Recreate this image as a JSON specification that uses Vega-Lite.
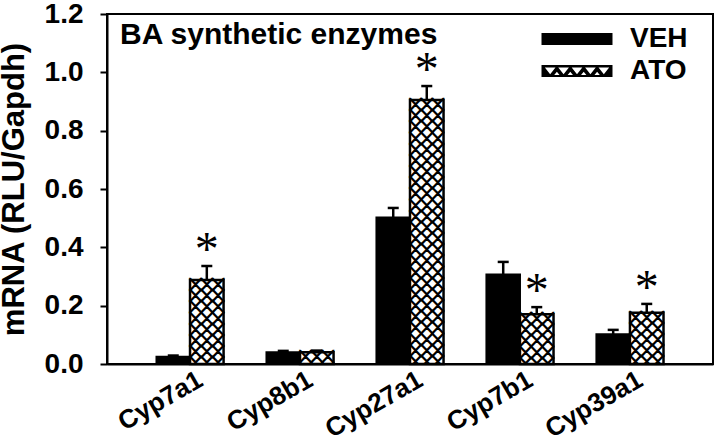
{
  "$schema": "https://vega.github.io/schema/vega-lite/v6.json",
  "width": 606,
  "height": 350,
  "autosize": "none",
  "padding": {"left": 107, "top": 14, "right": 3, "bottom": 76},
  "title": {
    "text": "BA synthetic enzymes",
    "anchor": "start",
    "frame": "group",
    "orient": "top",
    "offset": -50,
    "dx": 13,
    "font": "Liberation Sans",
    "fontSize": 30,
    "fontWeight": "bold",
    "color": "black"
  },
  "data": {
    "values": [
      {"gene": "Cyp7a1", "group": "VEH", "mean": 0.025, "upper": 0.029, "sig": ""},
      {"gene": "Cyp7a1", "group": "ATO", "mean": 0.288, "upper": 0.336, "sig": "*"},
      {"gene": "Cyp8b1", "group": "VEH", "mean": 0.040, "upper": 0.045, "sig": ""},
      {"gene": "Cyp8b1", "group": "ATO", "mean": 0.040, "upper": 0.046, "sig": ""},
      {"gene": "Cyp27a1", "group": "VEH", "mean": 0.502, "upper": 0.535, "sig": ""},
      {"gene": "Cyp27a1", "group": "ATO", "mean": 0.905, "upper": 0.953, "sig": "*"},
      {"gene": "Cyp7b1", "group": "VEH", "mean": 0.307, "upper": 0.350, "sig": ""},
      {"gene": "Cyp7b1", "group": "ATO", "mean": 0.171, "upper": 0.195, "sig": "*"},
      {"gene": "Cyp39a1", "group": "VEH", "mean": 0.102, "upper": 0.117, "sig": ""},
      {"gene": "Cyp39a1", "group": "ATO", "mean": 0.176, "upper": 0.206, "sig": "*"}
    ]
  },
  "encoding": {
    "x": {
      "field": "gene",
      "type": "nominal",
      "sort": ["Cyp7a1", "Cyp8b1", "Cyp27a1", "Cyp7b1", "Cyp39a1"],
      "scale": {"paddingInner": 0.39, "paddingOuter": 0.45},
      "axis": {
        "title": null,
        "ticks": false,
        "labelAngle": -30,
        "labelFontSize": 26,
        "labelPadding": 2,
        "labelOffset": 4
      }
    },
    "xOffset": {
      "field": "group",
      "type": "nominal",
      "sort": ["VEH", "ATO"],
      "scale": {"domain": ["VEH", "ATO"], "paddingInner": 0, "paddingOuter": 0}
    }
  },
  "layer": [
    {
      "transform": [{"filter": "datum.group === 'VEH'"}],
      "mark": {"type": "bar", "fill": "black", "stroke": "black", "strokeWidth": 2},
      "encoding": {
        "y": {
          "field": "mean",
          "type": "quantitative",
          "scale": {"domain": [0, 1.2], "nice": false},
          "axis": {
            "title": "mRNA (RLU/Gapdh)",
            "titleFontSize": 31,
            "titlePadding": 14,
            "values": [0, 0.2, 0.4, 0.6, 0.8, 1.0, 1.2],
            "format": ".1f",
            "labelFontSize": 28,
            "tickSize": 7,
            "labelPadding": 17
          }
        }
      }
    },
    {
      "transform": [{"filter": "datum.group === 'ATO'"}],
      "mark": {"type": "bar", "fill": "white", "strokeWidth": 0},
      "encoding": {
        "y": {"field": "mean", "type": "quantitative"}
      }
    },
    {
      "mark": {"type": "point", "filled": true, "color": "black", "opacity": 1, "size": 0, "strokeWidth": 0},
      "encoding": {
        "y": {"field": "mean", "type": "quantitative"},
        "shape": {
          "field": "group",
          "type": "nominal",
          "sort": ["VEH", "ATO"],
          "scale": {
            "domain": ["VEH", "ATO"],
            "range": [
              "M-2,-0.34H2V0.34H-2Z",
              "M-2,-0.34H2V0.34H-2Z M-1.812,-0.2L-1.512,0.18L-1.212,-0.2Z M-1.056,-0.2L-0.756,0.18L-0.456,-0.2Z M-0.3,-0.2L0,0.18L0.3,-0.2Z M0.456,-0.2L0.756,0.18L1.056,-0.2Z M1.212,-0.2L1.512,0.18L1.812,-0.2Z M-1.284,0.22L-0.984,0.22L-1.134,0.04Z M-0.528,0.22L-0.228,0.22L-0.378,0.04Z M0.228,0.22L0.528,0.22L0.378,0.04Z M0.984,0.22L1.284,0.22L1.134,0.04Z"
            ]
          },
          "legend": {
            "title": null,
            "orient": "none",
            "legendX": 452,
            "legendY": 7,
            "padding": 0,
            "symbolSize": 1260,
            "symbolFillColor": "black",
            "symbolStrokeWidth": 0,
            "symbolOpacity": 1,
            "labelFont": "Liberation Sans",
            "labelFontSize": 28,
            "labelFontWeight": "bold",
            "labelColor": "black",
            "labelOffset": 35,
            "rowPadding": 0
          }
        }
      }
    },
    {
      "transform": [{"filter": "datum.group === 'ATO'"}],
      "mark": {
        "type": "text",
        "clip": true,
        "font": "Noto Sans CJK SC",
        "fontSize": 11.17,
        "lineHeight": 11.17,
        "baseline": "top",
        "align": "center",
        "color": "black",
        "stroke": "black",
        "strokeWidth": 1.8,
        "text": ["╳╳╳", "╳╳╳", "╳╳╳", "╳╳╳", "╳╳╳", "╳╳╳", "╳╳╳", "╳╳╳", "╳╳╳", "╳╳╳", "╳╳╳", "╳╳╳", "╳╳╳", "╳╳╳", "╳╳╳", "╳╳╳", "╳╳╳", "╳╳╳", "╳╳╳", "╳╳╳", "╳╳╳", "╳╳╳", "╳╳╳", "╳╳╳", "╳╳╳", "╳╳╳"]
      },
      "encoding": {
        "y": {"field": "mean", "type": "quantitative"}
      }
    },
    {
      "transform": [{"filter": "datum.group === 'ATO'"}],
      "mark": {"type": "bar", "fill": null, "fillOpacity": 0, "stroke": "black", "strokeWidth": 2.5},
      "encoding": {
        "y": {"field": "mean", "type": "quantitative"}
      }
    },
    {
      "mark": {"type": "rule", "color": "black", "strokeWidth": 2.5},
      "encoding": {
        "y": {"field": "mean", "type": "quantitative"},
        "y2": {"field": "upper"}
      }
    },
    {
      "mark": {"type": "tick", "orient": "horizontal", "size": 11, "thickness": 2.5, "color": "black", "opacity": 1},
      "encoding": {
        "y": {"field": "upper", "type": "quantitative"}
      }
    },
    {
      "transform": [{"filter": "datum.sig !== ''"}],
      "mark": {"type": "text", "font": "Liberation Serif", "fontSize": 48, "baseline": "alphabetic", "align": "center", "dy": -1, "color": "black"},
      "encoding": {
        "y": {"field": "upper", "type": "quantitative"},
        "text": {"field": "sig"}
      }
    }
  ],
  "config": {
    "view": {"stroke": "black", "strokeWidth": 2},
    "axis": {
      "domainColor": "black",
      "domainWidth": 2,
      "tickColor": "black",
      "tickWidth": 2,
      "labelColor": "black",
      "labelFont": "Liberation Sans",
      "labelFontWeight": "bold",
      "titleFont": "Liberation Sans",
      "titleFontWeight": "bold",
      "titleColor": "black",
      "grid": false
    }
  }
}
